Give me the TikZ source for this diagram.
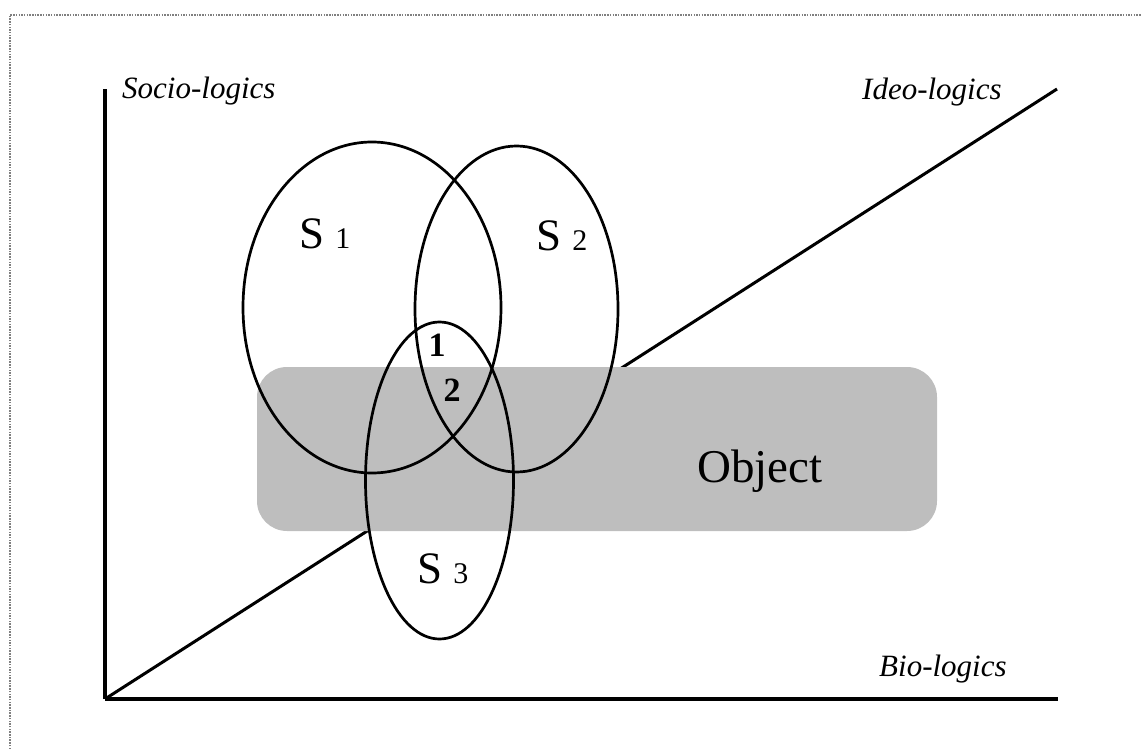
\documentclass[tikz,border=0pt]{standalone}
\usepackage{fontspec}
\setmainfont{Liberation Serif}
\usetikzlibrary{shapes.geometric}
\begin{document}
\begin{tikzpicture}[x=1pt,y=-1pt,
  axis/.style={line width=3.4pt},
  venn/.style={ellipse,draw,line width=2.7pt,inner sep=0pt},
  objbox/.style={fill=objgray,rounded corners=30pt},
  axlabel/.style={font=\fontsize{31}{31}\selectfont\itshape,inner sep=0pt,anchor=base west},
  setlabel/.style={inner sep=0pt,anchor=base west},
  numlabel/.style={font=\fontsize{34}{34}\selectfont\bfseries,inner sep=0pt,anchor=base},
  frameline/.style={draw=black!50,dash pattern=on 1.5pt off 1.2pt,line width=2.4pt}
]
\definecolor{objgray}{RGB}{190,190,190}
\useasboundingbox (0,0) rectangle (1141,749);
% dotted frame
\coordinate (F0) at (10,15);
\coordinate (F1) at (1141,15);
\coordinate (F2) at (10,749);
\draw[frameline] (F2) -- (F0) -- (F1);
% axes
\coordinate (O) at (105,699);
\coordinate (Ytop) at (105,89);
\coordinate (Xend) at (1058,699);
\coordinate (Dend) at (1057,89);
\draw[axis] (O) -- (Ytop);
\draw[axis] (O) -- (Xend);
\draw[line width=3pt] (O) -- (Dend);
% object box
\path[objbox] (257,367) rectangle (937,531);
\node (obj) [inner sep=0pt,anchor=base west,font=\fontsize{47}{47}\selectfont] at (697,482) {Object};
% ellipses
\node (s1) [venn,minimum width=258pt,minimum height=331pt] at (372,307.5) {};
\node (s2) [venn,minimum width=203pt,minimum height=326pt] at (516.5,309) {};
\node (s3) [venn,minimum width=148pt,minimum height=317pt] at (439.5,480.5) {};
% labels
\node (l1) [setlabel] at (299,248) {\fontsize{45}{45}\selectfont S {\fontsize{30}{30}\selectfont 1}};
\node (l2) [setlabel] at (536,250) {\fontsize{45}{45}\selectfont S {\fontsize{30}{30}\selectfont 2}};
\node (l3) [setlabel] at (417,583) {\fontsize{45}{45}\selectfont S {\fontsize{30}{30}\selectfont 3}};
\node (n1) [numlabel] at (437,356) {1};
\node (n2) [numlabel] at (452,401) {2};
\node (socio) [axlabel] at (122,99) {Socio-logics};
\node (ideo) [axlabel] at (862,100) {Ideo-logics};
\node (bio) [axlabel] at (879,676) {Bio-logics};
\end{tikzpicture}
\end{document}
